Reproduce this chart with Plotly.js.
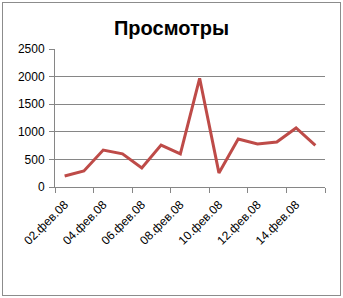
<!DOCTYPE html>
<html>
<head>
<meta charset="utf-8">
<script src="https://cdn.plot.ly/plotly-3.0.1.min.js"></script>
<style>
html,body{margin:0;padding:0;background:#fff;}
#wrap{position:relative;width:343px;height:298px;}
#chart{width:343px;height:298px;}
#frame{position:absolute;left:2px;top:2px;width:337px;height:292px;border:1px solid #8c8c8c;pointer-events:none;}
</style>
</head>
<body>
<div id="wrap"><div id="chart"></div><div id="frame"></div></div>
<script>
const dates = ["02.фев.08","03.фев.08","04.фев.08","05.фев.08","06.фев.08","07.фев.08","08.фев.08","09.фев.08","10.фев.08","11.фев.08","12.фев.08","13.фев.08","14.фев.08","15.фев.08"];
const views = [200, 290, 670, 600, 345, 760, 600, 1970, 255, 870, 780, 815, 1070, 755];
const yTicks = [0, 500, 1000, 1500, 2000, 2500];

const font = "Liberation Sans, Arial, sans-serif";
Plotly.newPlot("chart", [{
  x: dates, y: views, type: "scatter", mode: "lines",
  line: {color: "#BE4B48", width: 3},
  hoverinfo: "skip"
}], {
  width: 343, height: 298,
  margin: {l: 55, r: 18, t: 49, b: 111, pad: 0},
  paper_bgcolor: "#fff", plot_bgcolor: "#fff",
  showlegend: false,
  title: {text: "Просмотры", font: {family: font, size: 20, color: "#000", weight: "bold"},
          x: 0.5, xanchor: "center", y: 1 - 28/298, yanchor: "middle", yref: "container"},
  xaxis: {type: "category", tickson: "boundaries", dtick: 2, tickangle: -45,
          ticks: "outside", ticklen: 5, tickcolor: "#868686", showline: true, linecolor: "#868686", linewidth: 1,
          showgrid: false, zeroline: false, range: [-0.5, 13.5], ticklabelstandoff: 5,
          tickfont: {family: font, size: 12, color: "#000"}},
  yaxis: {range: [0, 2500], tickvals: yTicks, ticks: "outside", ticklen: 5, tickcolor: "#868686",
          showline: true, linecolor: "#868686", linewidth: 1, showgrid: true, gridcolor: "#868686", gridwidth: 1,
          zeroline: false, ticklabelstandoff: 2, tickfont: {family: font, size: 12, color: "#000"}}
}, {displayModeBar: false, staticPlot: true});
</script>
</body>
</html>
